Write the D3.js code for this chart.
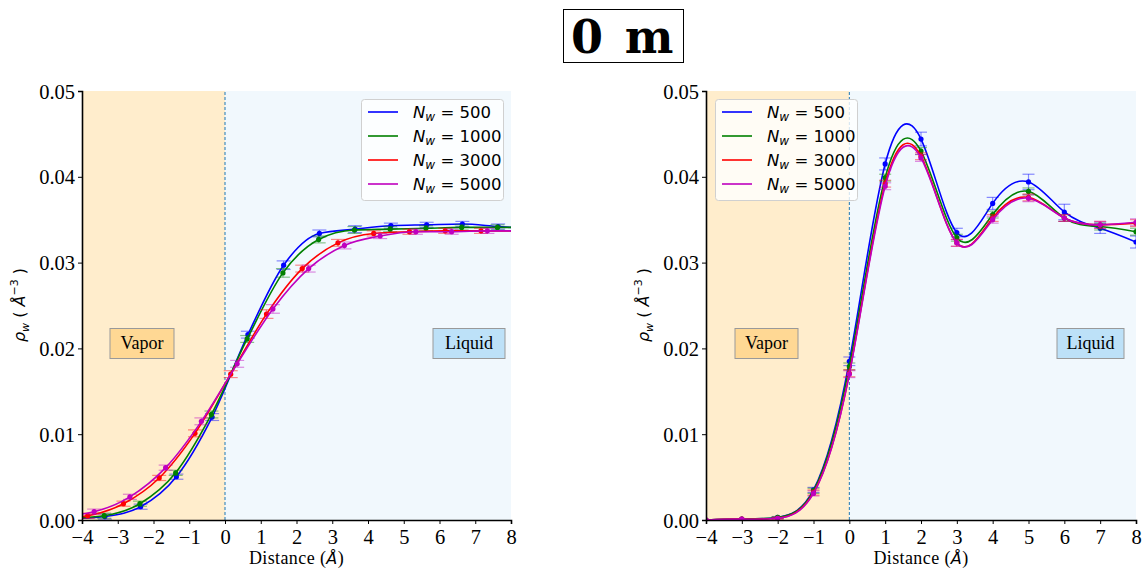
<!DOCTYPE html>
<html><head><meta charset="utf-8">
<script src="https://cdn.jsdelivr.net/npm/d3@7"></script>
<style>body{margin:0;background:#fff}</style></head>
<body><svg id="c" width="1145" height="572" xmlns="http://www.w3.org/2000/svg"></svg>
<script>
// ---------- data ----------
const titleText = "0 m";
const seriesN = [500, 1000, 3000, 5000];
const seriesColors = ["#0000ff", "#008000", "#ff0000", "#bf00bf"];
const xTicks = [-4, -3, -2, -1, 0, 1, 2, 3, 4, 5, 6, 7, 8];
const yTicks = [0.00, 0.01, 0.02, 0.03, 0.04, 0.05];

// Left panel (points measured per series)
const leftX500  = [-3.36, -2.36, -1.36, -0.36, 0.64, 1.64, 2.64, 3.64, 4.64, 5.64, 6.64, 7.64];
const leftY500  = [0.0004, 0.00155, 0.00505, 0.0120, 0.0216, 0.0297, 0.0334, 0.0339, 0.0343, 0.0344, 0.0345, 0.0342];
const leftX1000 = [-3.38, -2.38, -1.38, -0.38, 0.62, 1.62, 2.62, 3.62, 4.62, 5.62, 6.62, 7.62];
const leftY1000 = [0.0005, 0.0019, 0.0055, 0.0123, 0.0211, 0.0288, 0.0327, 0.0338, 0.0339, 0.0340, 0.0341, 0.0341];
const leftX3000 = [-3.84, -2.84, -1.84, -0.84, 0.16, 1.16, 2.16, 3.16, 4.16, 5.16, 6.16, 7.16];
const leftY3000 = [0.0005, 0.0019, 0.0049, 0.0101, 0.0170, 0.0240, 0.0293, 0.0323, 0.0334, 0.0336, 0.0337, 0.0337];
const leftX5000 = [-3.66, -2.66, -1.66, -0.66, 0.34, 1.34, 2.34, 3.34, 4.34, 5.34, 6.34, 7.34];
const leftY5000 = [0.00097, 0.0027, 0.0061, 0.0115, 0.0182, 0.0246, 0.0293, 0.0320, 0.0331, 0.0336, 0.0336, 0.0337];
const leftErr = [0.0003, 0.0003, 0.0003, 0.0004, 0.0004, 0.0005, 0.0004, 0.0004, 0.0003, 0.0003, 0.0003, 0.0003];
// fitted-curve values read at the axis edges (x = -4 and x = 8)
const leftEdgeStart = [0.0002, 0.0003, 0.0004, 0.0007];
const leftEdgeEnd   = [0.0341, 0.0341, 0.0337, 0.0337];

// Right panel
const rightX = [-4, -3, -2, -1, 0, 1, 2, 3, 4, 5, 6, 7, 8];
const rightY500  = [0.0000, 0.0001, 0.0003, 0.0035, 0.0185, 0.0415, 0.0444, 0.0335, 0.0369, 0.0394, 0.0359, 0.0340, 0.0324];
const rightY1000 = [0.0000, 0.0001, 0.0003, 0.0034, 0.0179, 0.0399, 0.0430, 0.0329, 0.0356, 0.0383, 0.0352, 0.0342, 0.0336];
const rightY3000 = [0.0000, 0.0001, 0.0002, 0.0032, 0.0171, 0.0392, 0.0424, 0.0323, 0.0352, 0.0376, 0.0352, 0.0344, 0.0346];
const rightY5000 = [0.0000, 0.0001, 0.0002, 0.0031, 0.0170, 0.0389, 0.0422, 0.0323, 0.0350, 0.0375, 0.0352, 0.0344, 0.0347];
const rightErr500 = [0, 0, 0.0001, 0.0003, 0.0005, 0.0007, 0.0008, 0.0005, 0.0007, 0.0009, 0.0009, 0.0006, 0.0007];
const rightErrOther = [0, 0, 0.0001, 0.0003, 0.0004, 0.0004, 0.0004, 0.0004, 0.0004, 0.0004, 0.0004, 0.0004, 0.0004];

// ---------- drawing ----------
const svg = d3.select("#c");
const serif = "'Liberation Serif', 'DejaVu Serif', serif";
const sans = "'DejaVu Sans', sans-serif";

// title
const tg = svg.append("g");
tg.append("rect").attr("x", 563.5).attr("y", 9.5).attr("width", 120).attr("height", 53)
  .attr("fill", "#fff").attr("stroke", "#000").attr("stroke-width", 1);
tg.append("text").attr("x", 587).attr("y", 53).attr("text-anchor", "middle")
  .attr("font-family", "'DejaVu Serif', serif").attr("font-weight", "bold").attr("font-size", 46)
  .text(titleText.split(" ")[0]);
tg.append("text").attr("x", 649).attr("y", 53).attr("text-anchor", "middle")
  .attr("font-family", "'DejaVu Serif', serif").attr("font-weight", "bold").attr("font-size", 46)
  .text(titleText.split(" ")[1]);

function drawPanel(cfg, idx) {
  const x = d3.scaleLinear().domain([-4, 8]).range([cfg.left, cfg.right]);
  const y = d3.scaleLinear().domain([0, 0.05]).range([520, 91]);
  const g = svg.append("g");
  const clipId = "clip" + idx;
  g.append("clipPath").attr("id", clipId).append("rect")
    .attr("x", x(-4)).attr("y", y(0.05)).attr("width", x(8) - x(-4)).attr("height", y(0) - y(0.05));

  // backgrounds
  g.append("rect").attr("x", x(-4)).attr("y", y(0.05)).attr("width", x(0) - x(-4)).attr("height", y(0) - y(0.05))
    .attr("fill", "#ffedcc");
  g.append("rect").attr("x", x(0)).attr("y", y(0.05)).attr("width", x(8) - x(0)).attr("height", y(0) - y(0.05))
    .attr("fill", "#f1f8fd");
  g.append("line").attr("x1", x(0)).attr("x2", x(0)).attr("y1", y(0)).attr("y2", y(0.05))
    .attr("stroke", "#1f77b4").attr("stroke-width", 1).attr("stroke-dasharray", "3,2");

  // boxes
  const boxes = [
    {t: "Vapor", cx: cfg.vaporCx, w: cfg.vaporW, fill: "#ffd894"},
    {t: "Liquid", cx: cfg.liquidCx, w: cfg.liquidW, fill: "#bde1f8"}
  ];
  boxes.forEach(b => {
    g.append("rect").attr("x", b.cx - b.w / 2).attr("y", 328.5).attr("width", b.w).attr("height", 30)
      .attr("fill", b.fill).attr("stroke", "#999").attr("stroke-width", 1);
    g.append("text").attr("x", b.cx).attr("y", 349).attr("text-anchor", "middle")
      .attr("font-family", serif).attr("font-size", 18).text(b.t);
  });

  const pg = g.append("g").attr("clip-path", `url(#${clipId})`);
  const line = d3.line().x(d => x(d[0])).y(d => y(d[1])).curve(cfg.curve);
  cfg.series.forEach((s, i) => {
    const col = seriesColors[i];
    // error bars
    const eb = pg.append("g").attr("stroke", col).attr("stroke-opacity", 0.45).attr("stroke-width", 1.2);
    s.x.forEach((xv, k) => {
      const e = s.err[k];
      if (e <= 0) return;
      const px = x(xv);
      eb.append("line").attr("x1", px).attr("x2", px).attr("y1", y(s.y[k] - e)).attr("y2", y(s.y[k] + e));
      [s.y[k] - e, s.y[k] + e].forEach(v => {
        eb.append("line").attr("x1", px - cfg.cap).attr("x2", px + cfg.cap).attr("y1", y(v)).attr("y2", y(v));
      });
    });
    // curve
    pg.append("path").datum(d3.zip(s.lx, s.ly)).attr("d", line)
      .attr("fill", "none").attr("stroke", col).attr("stroke-width", 1.6);
    // points
    pg.append("g").selectAll("circle").data(d3.zip(s.x, s.y)).join("circle")
      .attr("cx", d => x(d[0])).attr("cy", d => y(d[1])).attr("r", 2.6).attr("fill", col);
  });

  // axes
  const xa = g.append("g").attr("transform", `translate(0,${y(0)})`)
    .call(d3.axisBottom(x).tickValues(xTicks).tickSize(4).tickPadding(3).tickFormat(d => d3.format("d")(d).replace("-", "\u2212")));
  const ya = g.append("g").attr("transform", `translate(${x(-4)},0)`)
    .call(d3.axisLeft(y).tickValues(yTicks).tickSize(4).tickPadding(3).tickFormat(d3.format(".2f")));
  [xa, ya].forEach(a => {
    a.select(".domain").attr("stroke-width", 1.6).attr("stroke", "#000");
    a.selectAll("text").attr("font-family", serif).attr("font-size", 20.5).attr("fill", "#000");
    a.selectAll(".tick line").attr("stroke", "#000").attr("stroke-width", 1);
  });
  xa.selectAll("text").attr("dy", "0.85em");
  ya.selectAll("text").attr("dy", "0.35em");

  // axis labels
  const xl = g.append("text").attr("x", (x(-4) + x(8)) / 2).attr("y", 564).attr("text-anchor", "middle")
    .attr("font-family", serif).attr("font-size", 18).attr("letter-spacing", 0.4);
  xl.append("tspan").text("Distance (");
  xl.append("tspan").attr("font-family", sans).attr("font-style", "italic").attr("font-size", 16).text("\u00c5");
  xl.append("tspan").text(")");

  const yl = g.append("text").attr("transform", `translate(${x(-4) - 57},305) rotate(-90)`)
    .attr("text-anchor", "middle").attr("font-family", sans).attr("font-size", 16);
  yl.append("tspan").attr("font-style", "italic").text("\u03c1");
  yl.append("tspan").attr("font-style", "italic").attr("font-size", 11).attr("dy", 4).text("w");
  yl.append("tspan").attr("dy", -4).text(" ( ");
  yl.append("tspan").attr("font-style", "italic").text("\u00c5");
  yl.append("tspan").attr("font-size", 11).attr("dy", -7).text("\u22123");
  yl.append("tspan").attr("dy", 7).text(" )");

  // legend
  const lg = g.append("g").attr("transform", `translate(${cfg.legendX},99)`);
  lg.append("rect").attr("x", 0.5).attr("y", 0.5).attr("width", 142).attr("height", 101).attr("rx", 3)
    .attr("fill", "#fff").attr("fill-opacity", 0.8).attr("stroke", "#d0d0d0");
  seriesN.forEach((n, i) => {
    const ry = 13 + i * 24;
    lg.append("line").attr("x1", 7).attr("x2", 37).attr("y1", ry).attr("y2", ry)
      .attr("stroke", seriesColors[i]).attr("stroke-width", 1.6);
    const t = lg.append("text").attr("x", 52).attr("y", ry + 6).attr("font-family", sans).attr("font-size", 16.5);
    t.append("tspan").attr("font-style", "italic").text("N");
    t.append("tspan").attr("font-style", "italic").attr("font-size", 12).attr("dy", 3).text("w");
    t.append("tspan").attr("dy", -3).text(" = " + n);
  });
}

const leftXs = [leftX500, leftX1000, leftX3000, leftX5000];
const leftYs = [leftY500, leftY1000, leftY3000, leftY5000];
const leftSeries = leftXs.map((xs, i) => ({
  x: xs, y: leftYs[i], err: leftErr,
  lx: [-4, ...xs, 8], ly: [leftEdgeStart[i], ...leftYs[i], leftEdgeEnd[i]]
}));
const rightYs = [rightY500, rightY1000, rightY3000, rightY5000];
const rightSeries = rightYs.map((ys, i) => ({
  x: rightX, y: ys, err: i === 0 ? rightErr500 : rightErrOther, lx: rightX, ly: ys
}));

drawPanel({left: 82, right: 511, series: leftSeries, curve: d3.curveMonotoneX, cap: 7,
  vaporCx: 142, vaporW: 64, liquidCx: 469, liquidW: 72, legendX: 361}, 0);
drawPanel({left: 706, right: 1136, series: rightSeries, curve: d3.curveNatural, cap: 6,
  vaporCx: 766.5, vaporW: 63, liquidCx: 1090.5, liquidW: 67, legendX: 715}, 1);
</script></body></html>
